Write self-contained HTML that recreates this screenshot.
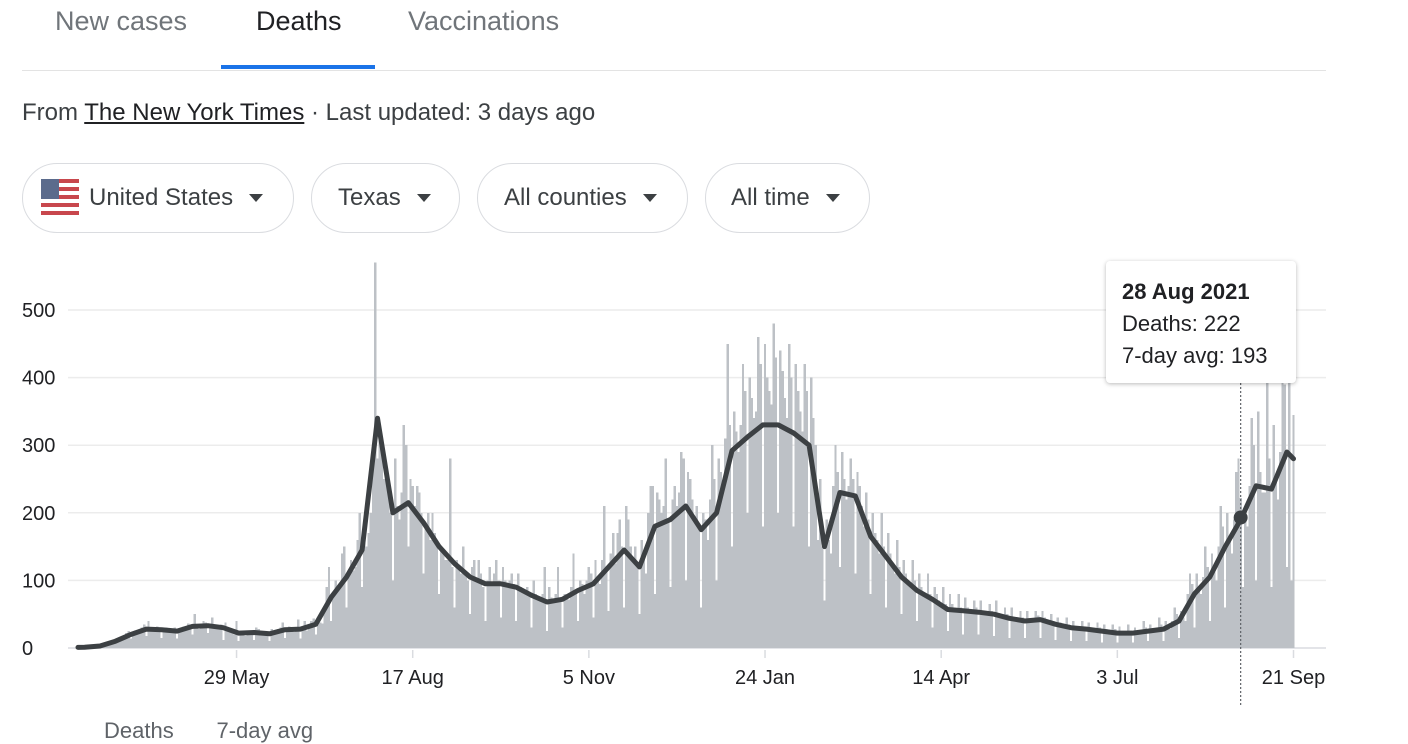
<!DOCTYPE html>
<html><head><meta charset="utf-8">
<style>
body{margin:0;width:1408px;height:726px;overflow:hidden;background:#fff;font-family:"Liberation Sans",Arial,sans-serif;position:relative}
.abs{position:absolute}
.tab{position:absolute;top:6px;font-size:27px;color:#70757a;white-space:nowrap}
.chip{position:absolute;top:163px;height:70px;border:1px solid #dadce0;border-radius:36px;box-sizing:border-box;font-size:24px;color:#3c4043;display:flex;align-items:center;white-space:nowrap}
.caret{display:inline-block;width:0;height:0;border-left:7px solid transparent;border-right:7px solid transparent;border-top:8px solid #3c4043;margin-left:16px}
</style></head><body>
<div class="tab" style="left:55px">New cases</div>
<div class="tab" style="left:256px;color:#202124">Deaths</div>
<div class="tab" style="left:408px">Vaccinations</div>
<div class="abs" style="left:221px;top:65px;width:154px;height:4px;background:#1a73e8"></div>
<div class="abs" style="left:22px;top:70px;width:1304px;height:1px;background:#e3e3e3"></div>
<div class="abs" style="left:22px;top:99px;font-size:24px;color:#3c4043;white-space:nowrap">From <span style="color:#202124;text-decoration:underline">The New York Times</span> · Last updated: 3 days ago</div>
<div class="chip" style="left:22px;width:272px;padding-left:18px">
<svg width="38" height="38" viewBox="0 0 38 38" style="margin-right:10px"><rect x="0" y="0" width="38" height="38" rx="4" fill="#fff"/><g fill="#c8474d"><rect y="0" width="38" height="4"/><rect y="8" width="38" height="4"/><rect y="16" width="38" height="4"/><rect y="24" width="38" height="4"/><rect y="32" width="38" height="4"/></g><rect width="18" height="20" fill="#5b6b8c"/></svg>United States<span class="caret"></span></div>
<div class="chip" style="left:311px;width:149px;padding-left:26px">Texas<span class="caret"></span></div>
<div class="chip" style="left:477px;width:211px;padding-left:26px">All counties<span class="caret"></span></div>
<div class="chip" style="left:705px;width:165px;padding-left:25px">All time<span class="caret"></span></div>

<svg id="chart" class="abs" style="left:0;top:0" width="1408" height="726"></svg>

<div class="abs" style="left:1106px;top:261px;width:190px;height:122px;background:#fff;border-radius:4px;box-shadow:0 1px 4px rgba(0,0,0,0.28);box-sizing:border-box;padding:15px 0 0 16px;font-size:22px;color:#202124;line-height:32px">
<div style="font-weight:bold">28 Aug 2021</div>
<div>Deaths: 222</div>
<div>7-day avg: 193</div>
</div>
<div class="abs" style="left:104px;top:718px;font-size:22px;color:#5f6368;white-space:nowrap">Deaths&nbsp;&nbsp;&nbsp;&nbsp;&nbsp;&nbsp;&nbsp;7-day avg</div>

<script>
const dailyDeaths=[
0,0,1,1,2,1,2, 2,3,4,3,5,6,4, 8,10,12,9,14,11,13, 18,22,25,14,20,26,24, 28,30,35,18,40,26,30,
26,32,24,15,28,30,27, 22,28,30,14,25,24,32, 30,36,28,20,50,33,28, 35,40,38,22,30,45,32, 30,28,35,12,38,25,24,
22,20,40,10,25,24,18, 22,26,25,12,30,28,20, 20,24,18,10,28,26,22, 28,30,38,15,26,32,28, 24,30,42,14,28,40,26,
32,40,44,20,35,38,36, 60,90,120,40,80,100,85, 95,140,150,60,110,130,115, 120,160,200,90,180,150,170, 200,300,570,280,330,300,250,
250,230,200,100,280,210,190, 230,330,300,150,250,240,210, 240,230,200,110,180,200,160, 200,170,150,80,150,140,130, 130,280,120,60,130,120,110,
150,110,100,50,120,130,100, 130,110,90,40,100,120,95, 110,130,100,45,120,100,90, 100,110,95,40,110,90,85, 85,90,80,30,100,80,75,
70,80,120,25,90,75,70, 80,120,70,30,80,75,72, 90,140,85,40,100,95,80, 100,120,110,45,130,105,95, 130,210,115,55,140,170,125,
170,190,150,60,210,190,150, 130,150,120,50,160,140,110, 200,240,240,80,230,220,200, 210,280,190,90,220,240,210, 230,290,280,100,260,250,220,
190,210,180,60,200,190,160, 220,300,250,100,280,260,240, 310,450,330,150,350,320,290, 330,420,380,200,400,370,340, 350,460,420,180,450,400,380,
360,480,430,200,440,410,370, 340,450,400,180,420,380,350, 320,420,380,150,400,340,300, 160,250,150,70,190,160,140, 240,300,260,120,290,250,220,
240,280,250,110,260,240,210, 180,230,190,80,200,170,160, 140,200,150,60,170,140,120, 110,160,120,50,130,110,100, 90,130,100,40,110,90,80,
75,110,80,30,90,80,70, 60,90,65,25,80,65,55, 55,80,60,20,75,60,55, 55,70,60,20,70,55,50, 50,65,55,18,70,50,45,
45,60,50,15,60,45,40, 40,55,45,15,55,40,38, 42,55,48,15,55,45,40, 35,50,40,12,45,38,32, 30,45,35,10,40,32,28,
28,40,32,10,38,30,26, 25,38,30,8,35,28,24, 22,35,28,8,32,25,20, 22,35,26,8,30,25,22, 25,40,30,10,35,28,24,
28,45,35,10,40,32,28, 40,60,50,15,55,45,40, 80,110,95,30,110,90,80, 105,150,120,40,140,115,100, 150,210,180,60,200,160,140,
190,260,280,222,90,200,180, 240,340,300,100,350,260,230, 230,400,280,90,330,250,220, 290,420,390,120,400,100,345];
const weeklyAvg=[1,3,10,20,28,27,25,32,33,30,22,23,21,27,28,35,75,105,145,340,200,215,185,150,125,105,95,95,90,78,68,72,85,95,120,145,120,180,190,210,175,200,292,312,330,330,318,300,150,230,225,165,135,105,85,72,57,55,53,50,44,40,42,35,30,28,25,22,22,25,28,40,80,105,150,190,240,235,290];
const lastAvg=280;
const yTicks=[0,100,200,300,400,500];
const xTickLabels=["29 May","17 Aug","5 Nov","24 Jan","14 Apr","3 Jul","21 Sep"];
const xTickDays=[72,152,232,312,392,472,552];
const tooltipDay=528, tooltipAvg=193;

const svg=document.getElementById('chart');
const NS='http://www.w3.org/2000/svg';
const X0=78, DX=2.202, Y0=648, YS=0.676;
const xs=d=>X0+d*DX;
const ys=v=>Y0-v*YS;
function mk(tag,attrs){const e=document.createElementNS(NS,tag);for(const k in attrs)e.setAttribute(k,attrs[k]);svg.appendChild(e);return e;}

yTicks.forEach(t=>{
  const g=mk('line',{x1:68,x2:1326,y1:ys(t),y2:ys(t),stroke:t===0?'#dadce0':'#ececec','stroke-width':1.5});
  
  
  const l=mk('text',{x:22,y:ys(t)+7,'font-size':20,fill:'#202124','font-family':'Liberation Sans, sans-serif'});
  l.textContent=t;
  
  
});
dailyDeaths.forEach((v,i)=>{
  const b=mk('rect',{x:xs(i)-1.2,y:ys(v),width:2.4,height:v*YS,fill:'#bdc1c6','shape-rendering':'crispEdges'});
  
  
});
xTickDays.forEach((d,i)=>{
  const t=mk('line',{x1:xs(d),x2:xs(d),y1:650,y2:658,stroke:'#dadce0','stroke-width':1.5});
  
  
  const l=mk('text',{x:xs(d),y:684,'font-size':20,fill:'#202124','text-anchor':'middle','font-family':'Liberation Sans, sans-serif'});
  l.textContent=xTickLabels[i];
  
  
});
let pts=weeklyAvg.map((v,i)=>xs(i*7+3).toFixed(1)+','+ys(v).toFixed(1));
pts.unshift(xs(0)+','+ys(weeklyAvg[0]));
pts.push(xs(dailyDeaths.length-1)+','+ys(lastAvg));
const line=mk('polyline',{points:pts.join(' '),fill:'none',stroke:'#3c4043','stroke-width':5,'stroke-linejoin':'round','stroke-linecap':'round'});


const hl=mk('line',{x1:xs(tooltipDay),x2:xs(tooltipDay),y1:383,y2:706,stroke:'#5f6368','stroke-width':1.2,'stroke-dasharray':'2,2'});


const dot=mk('circle',{cx:xs(tooltipDay),cy:ys(tooltipAvg),r:7,fill:'#3c4043'});


</script>
</body></html>
